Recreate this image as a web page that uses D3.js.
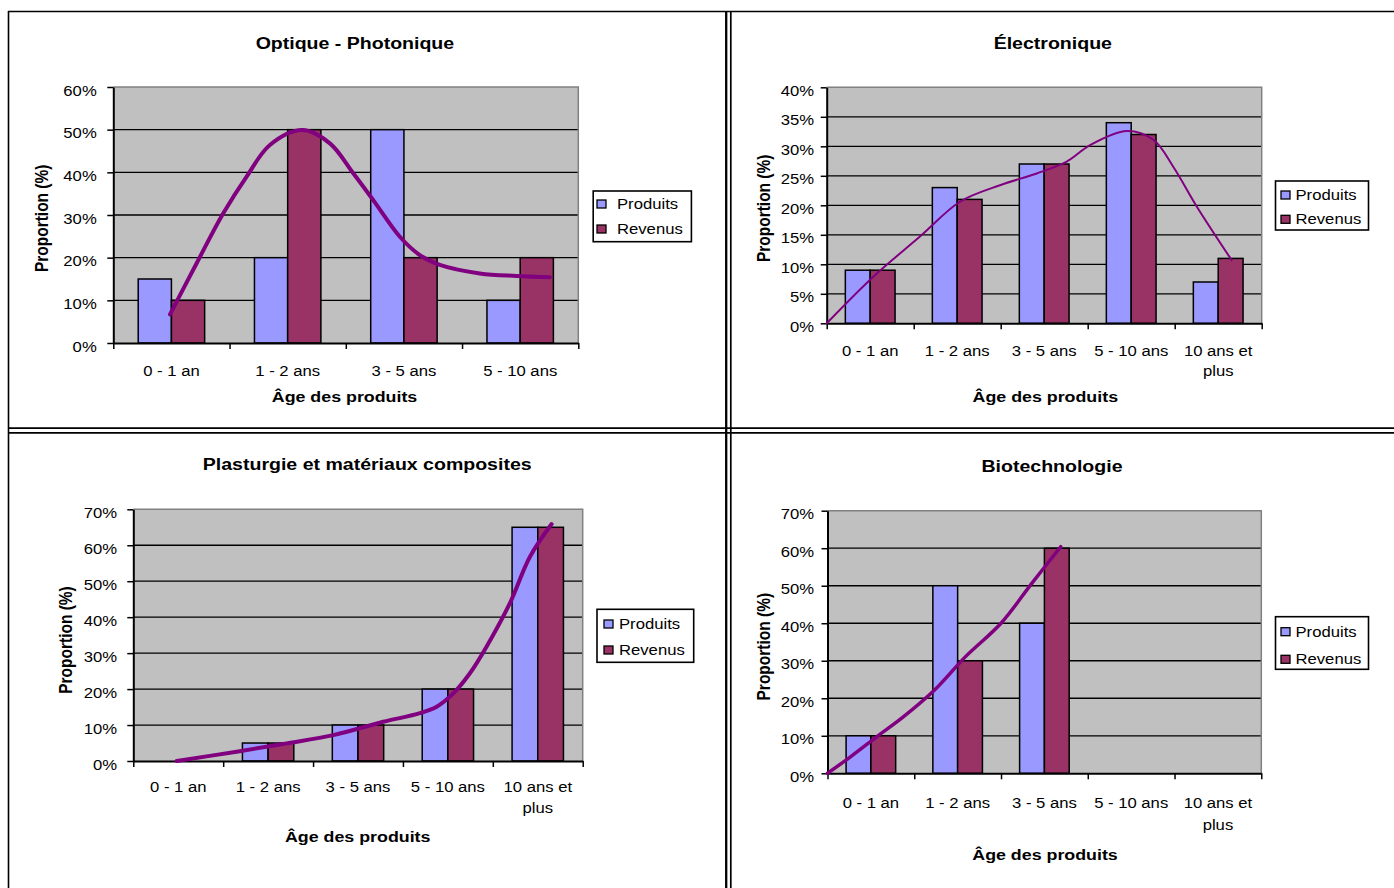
<!DOCTYPE html>
<html><head><meta charset="utf-8">
<script src="https://cdn.jsdelivr.net/npm/d3@7"></script>
<style>
body{margin:0;background:#fff}
svg{display:block}
text{font-family:"Liberation Sans",Arial,sans-serif;fill:#000}
</style>
</head><body><svg id="c" width="1394" height="888"></svg>
<script>
// ---------------- DATA ----------------
const seriesNames = ["Produits", "Revenus"];
const categories4 = ["0 - 1 an", "1 - 2 ans", "3 - 5 ans", "5 - 10 ans"];
const categories5 = ["0 - 1 an", "1 - 2 ans", "3 - 5 ans", "5 - 10 ans", "10 ans et plus"];
const categoryLines = {"10 ans et plus": ["10 ans et", "plus"]};

const titles = ["Optique - Photonique", "Électronique", "Plasturgie et matériaux composites", "Biotechnologie"];
const yAxisTitle = "Proportion (%)";
const xAxisTitle = "Âge des produits";

const optiqueProduits = [15, 20, 50, 10];
const optiqueRevenus  = [10, 50, 20, 20];
const optiqueTicks    = [0, 10, 20, 30, 40, 50, 60];
// hand-drawn trend curve: [category position, percent]
const optiqueCurve = [[0.488,6.7],[0.717,18.7],[0.946,30.4],[1.147,39],[1.347,46.4],[1.628,49.9],[1.863,46.8],[2.064,39.8],[2.236,33.5],[2.465,24.9],[2.637,20.6],[2.809,18.3],[3.153,16.3],[3.469,15.7],[3.755,15.4]];

const electroProduits = [9, 23, 27, 34, 7];
const electroRevenus  = [9, 21, 27, 32, 11];
const electroTicks    = [0, 5, 10, 15, 20, 25, 30, 35, 40];
const electroCurve = [[0,0],[0.536,7.9],[1.072,14.7],[1.532,20.6],[1.992,23.4],[2.414,25.4],[2.759,27.4],[3.027,30.2],[3.448,32.6],[3.755,31.1],[3.985,26.5],[4.253,19.8],[4.655,10.7]];

const plastProduits = [0, 5, 10, 20, 65];
const plastRevenus  = [0, 5, 10, 20, 65];
const plastTicks    = [0, 10, 20, 30, 40, 50, 60, 70];
const plastCurve = [[0.483,0],[1.15,2.6],[1.706,4.9],[2.225,7.2],[2.781,10.9],[3.189,13.3],[3.375,15.1],[3.56,18.8],[3.745,24.4],[3.93,31.8],[4.19,43.9],[4.413,56.8],[4.654,65.9]];

const bioProduits = [10, 50, 40, 0, 0];
const bioRevenus  = [10, 30, 60, 0, 0];
const bioTicks    = [0, 10, 20, 30, 40, 50, 60, 70];
const bioCurve = [[0,0],[0.265,4.4],[0.57,9.8],[0.877,15.1],[1.234,22.2],[1.591,31.1],[2.0,40],[2.357,50.7],[2.688,60.4]];

// ---------------- STYLE / LAYOUT ----------------
const S = 1.15; // horizontal text stretch of the reference
const colors = {"Produits": "#9999FF", "Revenus": "#993366"};
const curveColor = "#800080";

const charts = [
  {title: titles[0], categories: categories4, values: [optiqueProduits, optiqueRevenus], ticks: optiqueTicks, curve: optiqueCurve,
   left: 113.3, right: 578.3, top: 87, bottom: 343, titlePos: [354.9, 43.3], yLabelRight: 96.7,
   xLabelY: 371, lineH: 20, xTitlePos: [344.5, 396.7], yTitlePos: [41.5, 218.3],
   legend: {x: 593.2, y: 191, w: 98.2, h: 50.7, sq: 597, tx: 617, rows: [204, 229]}, curveW: 4},
  {title: titles[1], categories: categories5, values: [electroProduits, electroRevenus], ticks: electroTicks, curve: electroCurve,
   left: 826.7, right: 1261.7, top: 87.3, bottom: 323.3, titlePos: [1052.8, 43.3], yLabelRight: 814,
   xLabelY: 351, lineH: 20, xTitlePos: [1045.3, 396.7], yTitlePos: [764.2, 208.3],
   legend: {x: 1275.5, y: 181, w: 93, h: 49, sq: 1281, tx: 1295.5, rows: [195, 219.3]}, curveW: 2},
  {title: titles[2], categories: categories5, values: [plastProduits, plastRevenus], ticks: plastTicks, curve: plastCurve,
   left: 133.3, right: 582.7, top: 509.3, bottom: 761, titlePos: [367.2, 464], yLabelRight: 117,
   xLabelY: 786.7, lineH: 21.6, xTitlePos: [357.7, 836.7], yTitlePos: [66, 640],
   legend: {x: 597, y: 609.3, w: 96.7, h: 53, sq: 604, tx: 619, rows: [624, 650]}, curveW: 4},
  {title: titles[3], categories: categories5, values: [bioProduits, bioRevenus], ticks: bioTicks, curve: bioCurve,
   left: 827.5, right: 1261.3, top: 510.7, bottom: 773.3, titlePos: [1052, 465.7], yLabelRight: 814,
   xLabelY: 802.7, lineH: 22.3, xTitlePos: [1045, 854.3], yTitlePos: [763.3, 646.7],
   legend: {x: 1275.5, y: 616.7, w: 93, h: 52.6, sq: 1281, tx: 1295.5, rows: [631.7, 659.3]}, curveW: 3.5}
];

const svg = d3.select("#c");

// page frame (table borders)
const frame = svg.append("g").attr("stroke", "#000").attr("fill", "none");
frame.append("line").attr("x1", 8).attr("x2", 1394).attr("y1", 11.5).attr("y2", 11.5).attr("stroke-width", 1.6);
frame.append("line").attr("x1", 8.5).attr("x2", 8.5).attr("y1", 11).attr("y2", 888).attr("stroke-width", 1.6);
frame.append("line").attr("x1", 8).attr("x2", 1394).attr("y1", 428.2).attr("y2", 428.2).attr("stroke-width", 1.7);
frame.append("line").attr("x1", 8).attr("x2", 1394).attr("y1", 432.8).attr("y2", 432.8).attr("stroke-width", 1.7);
frame.append("line").attr("x1", 726.2).attr("x2", 726.2).attr("y1", 11).attr("y2", 888).attr("stroke-width", 2.3);
frame.append("line").attr("x1", 730.8).attr("x2", 730.8).attr("y1", 11).attr("y2", 888).attr("stroke-width", 1.7);

function stretchedText(g, x, y, str, opts) {
  const t = g.append("text")
    .attr("transform", `translate(${x},${y}) scale(${S},1)` + (opts.rotate ? " rotate(-90)" : ""))
    .attr("text-anchor", opts.anchor || "middle")
    .attr("dy", "0.35em")
    .style("font-size", opts.size + "px")
    .style("font-weight", opts.bold ? "bold" : "normal")
    .text(str);
  return t;
}

charts.forEach(cfg => {
  const g = svg.append("g");
  const n = cfg.categories.length;
  const x0 = d3.scaleBand().domain(cfg.categories).range([cfg.left, cfg.right]).paddingInner(0).paddingOuter(0);
  const x1 = d3.scaleBand().domain(seriesNames).range([0, x0.bandwidth()]).paddingInner(0).paddingOuter(0.75);
  const maxV = cfg.ticks[cfg.ticks.length - 1];
  const y = d3.scaleLinear().domain([0, maxV]).range([cfg.bottom, cfg.top]);
  const u = d3.scaleLinear().domain([0, n]).range([cfg.left, cfg.right]);

  // plot area
  g.append("rect").attr("x", cfg.left).attr("y", cfg.top)
    .attr("width", cfg.right - cfg.left).attr("height", cfg.bottom - cfg.top).attr("fill", "#C0C0C0");
  // gridlines
  g.append("g").selectAll("line").data(cfg.ticks.filter(t => t > 0 && t < maxV)).join("line")
    .attr("x1", cfg.left).attr("x2", cfg.right).attr("y1", d => y(d)).attr("y2", d => y(d))
    .attr("stroke", "#000").attr("stroke-width", 1.3);
  // plot border (top/right)
  g.append("path").attr("d", `M${cfg.left},${y(maxV)}H${cfg.right}V${cfg.bottom}`)
    .attr("fill", "none").attr("stroke", "#808080").attr("stroke-width", 1.5);

  // bars
  const barData = [];
  cfg.categories.forEach((c, i) => seriesNames.forEach((s, j) => barData.push({c, s, v: cfg.values[j][i]})));
  g.append("g").selectAll("rect").data(barData.filter(d => d.v > 0)).join("rect")
    .attr("x", d => x0(d.c) + x1(d.s)).attr("width", x1.bandwidth())
    .attr("y", d => y(d.v)).attr("height", d => y(0) - y(d.v))
    .attr("fill", d => colors[d.s]).attr("stroke", "#000").attr("stroke-width", 1.5);

  // y axis
  const ya = g.append("g").attr("transform", `translate(${cfg.left},0)`)
    .call(d3.axisLeft(y).tickValues(cfg.ticks).tickFormat(d => d + "%").tickSize(6).tickSizeOuter(0));
  ya.select(".domain").attr("stroke", "#000").attr("stroke-width", 2);
  ya.selectAll(".tick line").attr("stroke", "#000").attr("stroke-width", 1.5);
  ya.selectAll(".tick text")
    .attr("x", null).attr("dy", "0.35em")
    .attr("transform", `translate(${cfg.yLabelRight - cfg.left},3) scale(${S},1)`)
    .attr("text-anchor", "end")
    .style("font-family", '"Liberation Sans",Arial,sans-serif').style("font-size", "14.5px").attr("fill", "#000");

  // x axis (ticks at category boundaries)
  const xa = g.append("g").attr("transform", `translate(0,${cfg.bottom})`)
    .call(d3.axisBottom(u).tickValues(d3.range(n + 1)).tickFormat("").tickSize(6).tickSizeOuter(0));
  xa.select(".domain").attr("stroke", "#000").attr("stroke-width", 2);
  xa.selectAll(".tick line").attr("stroke", "#000").attr("stroke-width", 1.5);

  // category labels
  cfg.categories.forEach(c => {
    const lines = categoryLines[c] || [c];
    lines.forEach((ln, k) => stretchedText(g, x0(c) + x0.bandwidth() / 2, cfg.xLabelY + k * cfg.lineH, ln, {size: 14.5}));
  });

  // curve
  g.append("path").datum(cfg.curve)
    .attr("d", d3.line().x(d => u(d[0])).y(d => y(d[1])).curve(d3.curveCatmullRom.alpha(0.5)))
    .attr("fill", "none").attr("stroke", curveColor).attr("stroke-width", cfg.curveW)
    .attr("stroke-linecap", "round").attr("stroke-linejoin", "round");

  // titles
  stretchedText(g, cfg.titlePos[0], cfg.titlePos[1], cfg.title, {size: 17, bold: true});
  stretchedText(g, cfg.xTitlePos[0], cfg.xTitlePos[1], xAxisTitle, {size: 15.5, bold: true});
  stretchedText(g, cfg.yTitlePos[0], cfg.yTitlePos[1], yAxisTitle, {size: 15.5, bold: true, rotate: true});

  // legend
  const L = cfg.legend;
  const lg = g.append("g");
  lg.append("rect").attr("x", L.x).attr("y", L.y).attr("width", L.w).attr("height", L.h)
    .attr("fill", "#fff").attr("stroke", "#000").attr("stroke-width", 1.6);
  seriesNames.forEach((s, i) => {
    lg.append("rect").attr("x", L.sq).attr("y", L.rows[i] - 4).attr("width", 9).attr("height", 8)
      .attr("fill", colors[s]).attr("stroke", "#000").attr("stroke-width", 1.3);
    stretchedText(lg, L.tx, L.rows[i], s, {size: 14.5, anchor: "start"});
  });
});
</script>
</body></html>
